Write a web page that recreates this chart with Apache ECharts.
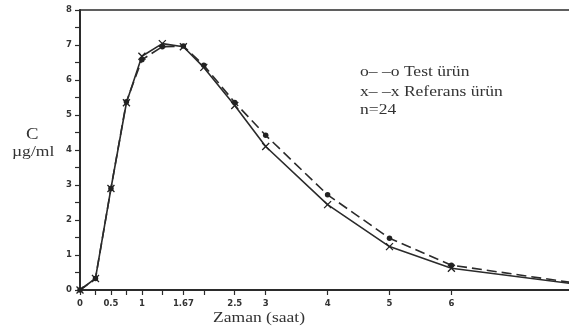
<!DOCTYPE html>
<html>
<head>
<meta charset="utf-8">
<script src="https://cdn.jsdelivr.net/npm/echarts@6/dist/echarts.min.js"></script>
<style>html,body{margin:0;padding:0;background:#fff}#c{width:569px;height:334px}</style>
</head>
<body>
<div id="c"></div>
<script>
var times = [0, 0.25, 0.5, 0.75, 1, 1.33, 1.67, 2, 2.5, 3, 4, 5, 6, 8];
var testValues = [0, 0.33, 2.9, 5.38, 6.58, 6.95, 6.97, 6.42, 5.36, 4.42, 2.72, 1.48, 0.71, 0.2];
var refValues  = [0, 0.33, 2.9, 5.35, 6.68, 7.04, 6.95, 6.36, 5.27, 4.1, 2.44, 1.24, 0.62, 0.17];
var xTickValues = [0, 0.25, 0.5, 0.75, 1, 1.33, 1.67, 2, 2.5, 3, 4, 5, 6];
var xLabelValues = [0, 0.5, 1, 1.67, 2.5, 3, 4, 5, 6];
var yLabels = [0, 1, 2, 3, 4, 5, 6, 7, 8];
var legendLines = ['o\u2013 \u2013o Test \u00fcr\u00fcn', 'x\u2013 \u2013x Referans \u00fcr\u00fcn', 'n=24'];

function pairs(xs, ys) { return xs.map(function (x, i) { return [x, ys[i]]; }); }

var chart = echarts.init(document.getElementById('c'), null, { renderer: 'canvas' });
var ink = '#2b2b2b';
var tickFont = { color: '#333', fontSize: 8.5, fontWeight: 'bold', fontFamily: 'DejaVu Sans' };
function txt(s, x, y, size) {
  return { type: 'text', x: x, y: y, scaleX: 1.17, scaleY: 1,
    style: { text: s, fill: '#333', font: size + 'px "Liberation Serif"', verticalAlign: 'top' } };
}
chart.setOption({
  backgroundColor: '#fff',
  animation: false,
  grid: { left: 80, top: 10, right: 0, bottom: 44 },
  xAxis: [{
    type: 'value', min: 0, max: 7.9,
    axisLine: { show: true, onZero: false, lineStyle: { color: ink, width: 2 } },
    axisTick: { show: true, length: 5, customValues: xTickValues, lineStyle: { color: ink, width: 1.2 } },
    axisLabel: Object.assign({ customValues: xLabelValues, margin: 9, formatter: function (v) { return String(v); } }, tickFont),
    splitLine: { show: false }
  }, {
    type: 'value', min: 0, max: 7.9, position: 'top',
    axisLine: { show: true, onZero: false, lineStyle: { color: ink, width: 1.5 } },
    axisTick: { show: false }, axisLabel: { show: false }, splitLine: { show: false }
  }],
  yAxis: {
    type: 'value', min: 0, max: 8, interval: 1,
    axisLine: { show: true, onZero: false, lineStyle: { color: ink, width: 2 } },
    axisTick: { show: true, length: 5, lineStyle: { color: ink, width: 1.2 } },
    minorTick: { show: true, splitNumber: 2, length: 5, lineStyle: { color: ink, width: 1.2 } },
    axisLabel: Object.assign({ margin: 8, customValues: yLabels }, tickFont),
    splitLine: { show: false }
  },
  graphic: [
    txt('C', 26, 127, 16),
    txt('\u00b5g/ml', 12, 145, 15),
    txt('Zaman (saat)', 213, 311, 15),
    txt(legendLines[0], 360, 65, 15),
    txt(legendLines[1], 360, 85, 15),
    txt(legendLines[2], 360, 103, 15)
  ],
  series: [{
    name: 'Test', type: 'line', data: pairs(times, testValues), clip: true,
    symbol: 'circle', symbolSize: 5.5, showAllSymbol: true,
    itemStyle: { color: '#222' },
    lineStyle: { color: ink, width: 1.6, type: [10, 5] }
  }, {
    name: 'Referans', type: 'line', data: pairs(times, refValues), clip: true,
    symbol: 'path://M0,0L10,10M10,0L0,10', symbolSize: 7, showAllSymbol: true,
    itemStyle: { color: 'none', borderColor: '#222', borderWidth: 1.3 },
    lineStyle: { color: ink, width: 1.6 }
  }]
});
</script>
</body>
</html>
